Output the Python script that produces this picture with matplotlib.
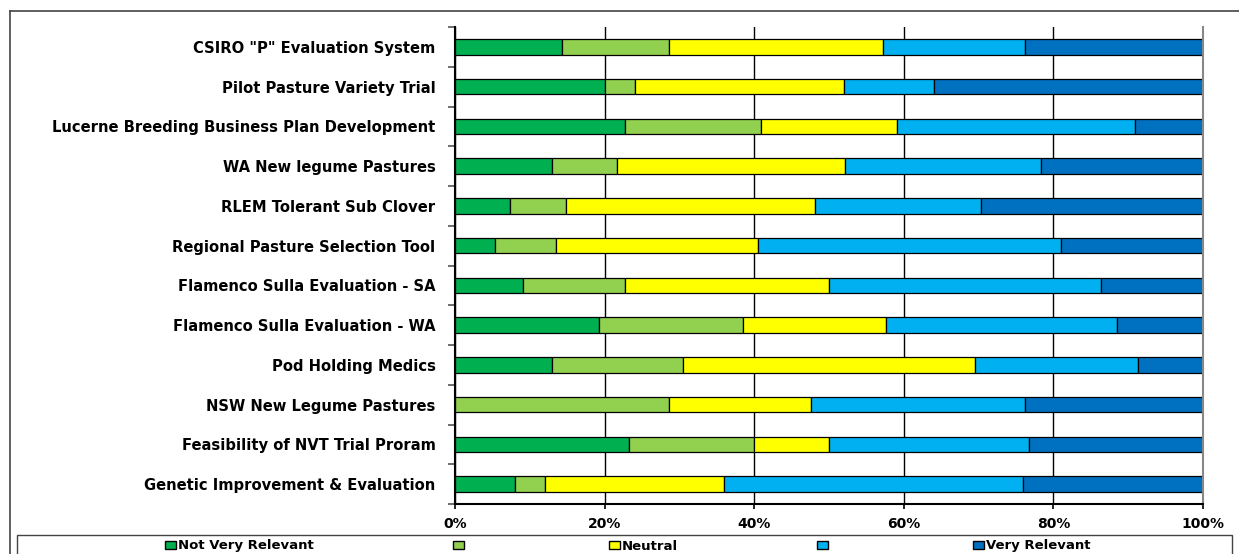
import numpy as np
from matplotlib import pyplot as plt
from matplotlib.lines import Line2D
from matplotlib.patches import Rectangle
from matplotlib.ticker import FuncFormatter

# projects, listed top to bottom
projects = [
    'CSIRO "P" Evaluation System',
    'Pilot Pasture Variety Trial',
    'Lucerne Breeding Business Plan Development',
    'WA New legume Pastures',
    'RLEM Tolerant Sub Clover',
    'Regional Pasture Selection Tool',
    'Flamenco Sulla Evaluation - SA',
    'Flamenco Sulla Evaluation - WA',
    'Pod Holding Medics',
    'NSW New Legume Pastures',
    'Feasibility of NVT Trial Proram',
    'Genetic Improvement & Evaluation',
]

# share of responses (%) per relevance level
not_very_relevant = [14.3, 20.0, 22.7, 13.0, 7.4, 5.4, 9.1, 19.2, 13.0, 0.0, 23.3, 8.0]
level_2 = [14.3, 4.0, 18.2, 8.7, 7.4, 8.1, 13.6, 19.2, 17.4, 28.6, 16.7, 4.0]
neutral = [28.6, 28.0, 18.2, 30.4, 33.3, 27.0, 27.3, 19.2, 39.1, 19.0, 10.0, 24.0]
level_4 = [19.0, 12.0, 31.8, 26.1, 22.2, 40.5, 36.4, 30.8, 21.7, 28.6, 26.7, 40.0]
very_relevant = [23.8, 36.0, 9.1, 21.7, 29.6, 18.9, 13.6, 11.5, 8.7, 23.8, 23.3, 24.0]

series_names = ['Not Very Relevant', ' ', 'Neutral', ' ', 'Very Relevant']
colors = ['#00B050', '#92D050', '#FFFF00', '#00B0F0', '#0070C0']

plt.rcParams['font.family'] = ['DejaVu Sans']
plt.rcParams['font.weight'] = 'bold'

data = np.array([not_very_relevant, level_2, neutral, level_4, very_relevant])
shares = data / data.sum(axis=0) * 100  # 100% stacked

fig = plt.figure(figsize=(12.39, 5.54), dpi=100)
ax = fig.add_axes([455 / 1239, 1 - 504 / 554, 748 / 1239, 477 / 554])

y = np.arange(len(projects))
left = np.zeros(len(projects))
handles = []
for vals, name, color in zip(shares, series_names, colors):
    bars = ax.barh(y, vals, left=left, height=0.39, color=color,
                   edgecolor='black', linewidth=0.9, label=name)
    handles.append(bars)
    left += vals

ax.set_xlim(0, 100)
ax.set_ylim(len(projects) - 0.5, -0.5)
ax.set_xticks(np.arange(0, 101, 20))
ax.xaxis.set_major_formatter(FuncFormatter(lambda v, pos: f'{v:.0f}%'))
ax.set_yticks(y)
ax.set_yticklabels(projects)
ax.set_yticks(np.arange(-0.5, len(projects)), minor=True)

ax.tick_params(axis='y', which='major', length=0, pad=14, labelsize=10.6)
ax.tick_params(axis='y', which='minor', length=5, width=1.2, color='#555555', direction='out')
ax.tick_params(axis='x', length=3.5, width=1.2, pad=6, labelsize=10)

ax.set_axisbelow(True)
ax.xaxis.grid(True, color='black', linewidth=1.0)
ax.spines['top'].set_visible(False)
ax.spines['right'].set_color('#888888')
ax.spines['right'].set_linewidth(1.5)
ax.spines['left'].set_linewidth(1.5)
ax.spines['bottom'].set_linewidth(1.5)

# outer chart frame (top and left edges)
fig.add_artist(Line2D([10 / 1239, 1.0], [1 - 11 / 554, 1 - 11 / 554], color='#444444', lw=1.2))
fig.add_artist(Line2D([10 / 1239, 10 / 1239], [0.0, 1 - 11 / 554], color='#444444', lw=1.2))

# legend box
fig.add_artist(Rectangle((17 / 1239, -0.05), (1232 - 17) / 1239, 0.05 + 1 - 535 / 554,
                         transform=fig.transFigure, facecolor='white',
                         edgecolor='#444444', lw=1.0))

leg = fig.legend(handles, series_names, loc='center', bbox_to_anchor=(628 / 1239, 1 - 546 / 554),
                 ncol=5, frameon=False, fontsize=9.5, handlelength=0.85, handleheight=0.55,
                 handletextpad=0.15, columnspacing=10.5, borderpad=0)
for patch in leg.get_patches():
    patch.set_linewidth(1.0)

fig.savefig('out.png', dpi=100)
